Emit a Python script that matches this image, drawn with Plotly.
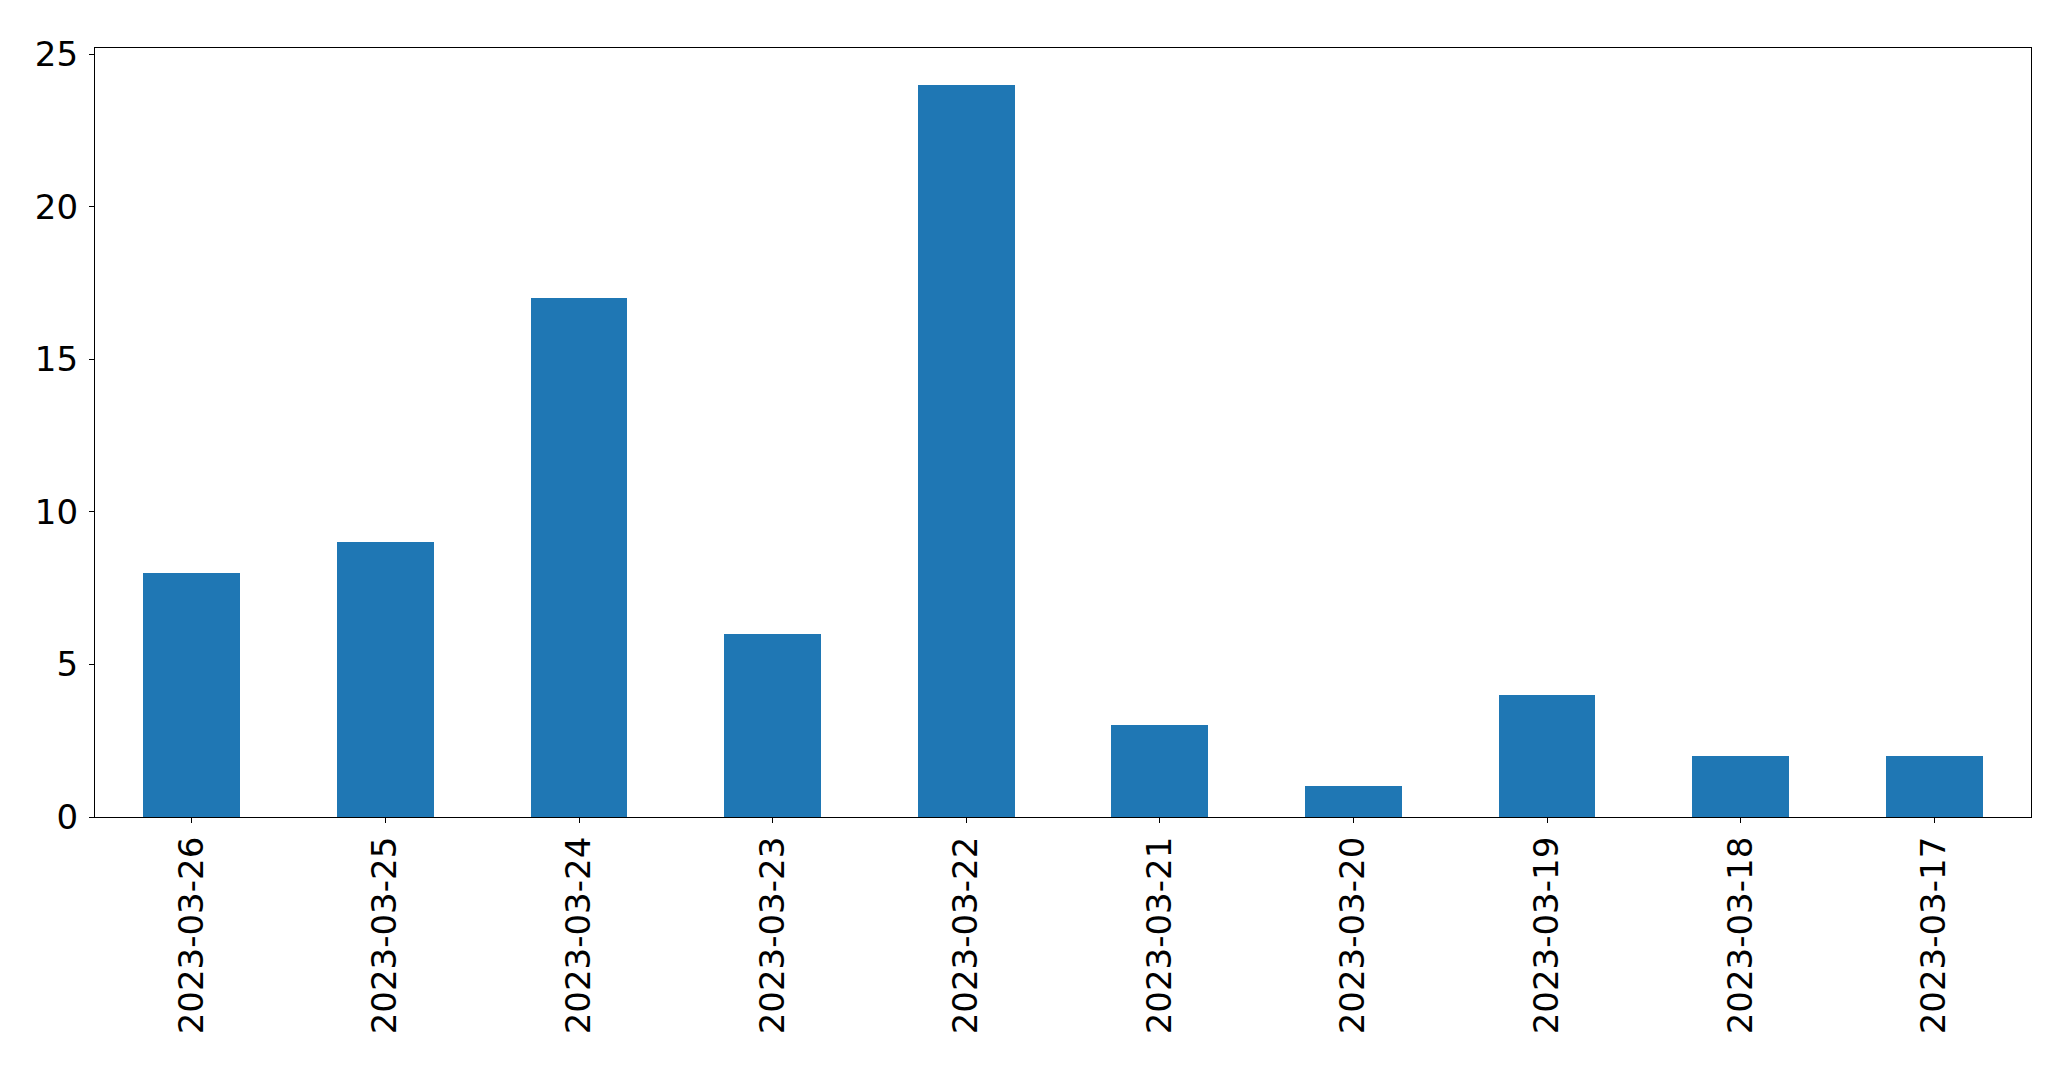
import plotly.graph_objects as go

dates = ["2023-03-26", "2023-03-25", "2023-03-24", "2023-03-23", "2023-03-22",
         "2023-03-21", "2023-03-20", "2023-03-19", "2023-03-18", "2023-03-17"]
counts = [8, 9, 17, 6, 24, 3, 1, 4, 2, 2]

fig = go.Figure(go.Bar(
    x=list(range(len(dates))), y=counts, width=0.5,
    marker=dict(color="#1f77b4", line=dict(width=0)),
))

W, H = 2071, 1069
fig.update_layout(
    width=W, height=H,
    margin=dict(l=94.5, r=39.5, t=47.5, b=252, pad=0),
    paper_bgcolor="white", plot_bgcolor="white",
    font=dict(family="DejaVu Sans", size=34, color="black"),
    showlegend=False,
    bargap=0,
)
fig.update_xaxes(
    range=[-0.5, len(dates) - 0.5],
    tickmode="array", tickvals=list(range(len(dates))), ticktext=dates,
    tickangle=-90,
    showline=True, linecolor="black", linewidth=1.3, mirror=True,
    ticks="outside", ticklen=5, tickwidth=1.3, tickcolor="black",
    showgrid=False, zeroline=False, ticklabelstandoff=0,
)
fig.update_yaxes(
    range=[0, 25.2],
    tickmode="array", tickvals=[0, 5, 10, 15, 20, 25],
    showline=True, linecolor="black", linewidth=1.3, mirror=True,
    ticks="outside", ticklen=5, tickwidth=1.3, tickcolor="black",
    showgrid=False, zeroline=False, ticklabelstandoff=4,
)

fig.write_html("out.html", config={"displayModeBar": False},
               post_script="document.body.style.margin='0';document.body.style.padding='0';")
